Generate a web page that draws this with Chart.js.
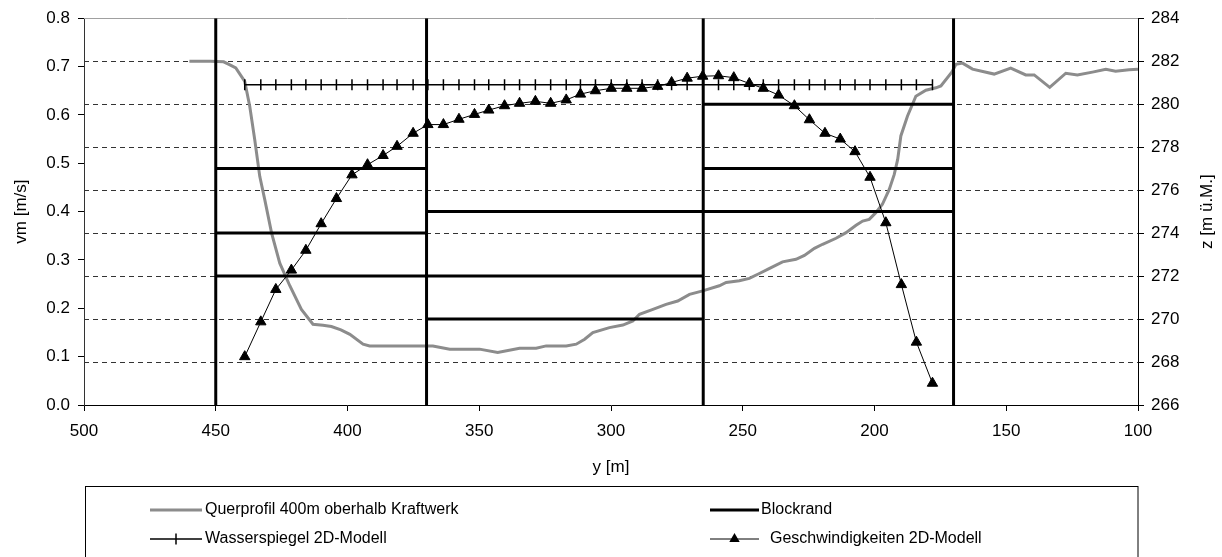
<!DOCTYPE html>
<html><head><meta charset="utf-8">
<script src="https://cdn.jsdelivr.net/npm/chart.js@4.4.0/dist/chart.umd.min.js"></script>
<style>html,body{margin:0;padding:0;background:#fff;overflow:hidden}#wrap{width:1222px;height:557px;position:relative}</style>
</head><body><div id="wrap"><canvas id="c" width="1222" height="557"></canvas></div>
<script>
// ---- data ----
const xTickLabels = [500, 450, 400, 350, 300, 250, 200, 150, 100];
const vmTickLabels = ["0.0","0.1","0.2","0.3","0.4","0.5","0.6","0.7","0.8"];
const zTickLabels = [266, 268, 270, 272, 274, 276, 278, 280, 282, 284];

// y positions [m] of the 2D-model nodes
const modelY = [439, 432.9, 427.2, 421.3, 415.8, 410.0, 404.2, 398.3, 392.4, 386.5, 381.2, 375.1, 369.5, 363.6, 357.7, 351.8, 346.4, 340.4, 334.7, 328.7, 322.9, 317.0, 311.6, 305.9, 299.9, 294.0, 288.2, 282.3, 277.0, 271.1, 265.2, 259.2, 253.4, 247.5, 242.2, 236.4, 230.4, 224.7, 218.8, 213.0, 207.4, 201.7, 195.7, 189.8, 184.1, 178.0];
// Geschwindigkeiten 2D-Modell, vm [m/s]
const velocity = [0.100, 0.172, 0.239, 0.279, 0.320, 0.375, 0.427, 0.476, 0.497, 0.516, 0.535, 0.562, 0.580, 0.580, 0.591, 0.601, 0.610, 0.619, 0.624, 0.628, 0.624, 0.631, 0.643, 0.650, 0.655, 0.655, 0.655, 0.659, 0.667, 0.676, 0.680, 0.681, 0.677, 0.665, 0.655, 0.641, 0.619, 0.590, 0.562, 0.550, 0.524, 0.471, 0.377, 0.249, 0.130, 0.045];
// Wasserspiegel 2D-Modell, z [m ü.M.]
const waterLevel = [280.9, 280.9, 280.9, 280.9, 280.9, 280.9, 280.9, 280.9, 280.9, 280.9, 280.9, 280.9, 280.9, 280.9, 280.9, 280.9, 280.9, 280.9, 280.9, 280.9, 280.9, 280.9, 280.9, 280.9, 280.9, 280.9, 280.9, 280.9, 280.9, 280.9, 280.9, 280.9, 280.9, 280.9, 280.9, 280.9, 280.9, 280.9, 280.9, 280.9, 280.9, 280.9, 280.9, 280.9, 280.9, 280.9];

// Querprofil 400m oberhalb Kraftwerk
const profileY = [460, 452, 447, 445, 442.4, 439.0, 437.1, 435.2, 433.3, 431.4, 428.8, 425.7, 421.9, 417.5, 413.1, 409.3, 406.1, 402.5, 399.1, 394.1, 391.6, 380, 367.6, 361.2, 349.9, 343.0, 334.7, 328.4, 324.6, 317.0, 313.2, 310.0, 306.9, 300.6, 295.5, 291.7, 289.2, 284.1, 279.1, 274.7, 270.2, 265.2, 258.9, 256.3, 251.3, 247.5, 243.7, 240.0, 234.9, 229.8, 226.6, 222.8, 219.7, 214.6, 210.8, 207.0, 204.5, 202.0, 199.5, 197.0, 194.4, 192.5, 191.2, 190.0, 187.5, 184.3, 180.5, 176.7, 174.8, 170.6, 169.1, 166.6, 162.8, 154.6, 148.3, 142.6, 139.4, 133.5, 127.4, 123.0, 117.3, 112.2, 108.5, 103.4, 100];
const profileZ = [282.0, 282.0, 281.97, 281.85, 281.69, 281.06, 279.9, 278.34, 276.64, 275.56, 274.0, 272.6, 271.55, 270.45, 269.76, 269.71, 269.65, 269.5, 269.29, 268.83, 268.75, 268.75, 268.75, 268.6, 268.6, 268.44, 268.64, 268.64, 268.75, 268.75, 268.83, 269.06, 269.37, 269.6, 269.72, 269.91, 270.22, 270.45, 270.68, 270.84, 271.15, 271.31, 271.55, 271.7, 271.78, 271.89, 272.12, 272.35, 272.66, 272.78, 272.96, 273.29, 273.48, 273.76, 274.02, 274.36, 274.56, 274.64, 274.95, 275.34, 276.03, 276.73, 277.43, 278.52, 279.44, 280.37, 280.65, 280.76, 280.85, 281.5, 281.85, 281.91, 281.63, 281.4, 281.68, 281.36, 281.36, 280.78, 281.44, 281.36, 281.49, 281.62, 281.53, 281.6, 281.62];

// Blockrand segments (null separates segments)
const blockY = [450, 450, null, 370, 370, null, 265, 265, null, 170, 170, null,
  450, 370, null, 450, 370, null, 450, 265, null, 370, 170, null, 370, 265, null, 265, 170, null, 265, 170];
const blockZ = [266, 284, null, 266, 284, null, 266, 284, null, 266, 284, null,
  277, 277, null, 274, 274, null, 272, 272, null, 275, 275, null, 270, 270, null, 280, 280, null, 277, 277];

const legendLabels = ["Querprofil 400m oberhalb Kraftwerk", "Blockrand", "Wasserspiegel 2D-Modell", "Geschwindigkeiten 2D-Modell"];
const axisTitles = {x: "y [m]", vm: "vm [m/s]", z: "z [m ü.M."+"]"};

// ---- chart ----
const FONT = "'Liberation Sans', Arial, sans-serif";
const pts = (xs, ys) => xs.map((x, i) => ({x: x === null ? null : x, y: ys[i]}));

const overlay = {
  id: 'overlay',
  beforeDatasetsDraw(chart) {
    const {ctx, chartArea: a} = chart;
    ctx.save();
    ctx.strokeStyle = '#a0a0a0';
    ctx.lineWidth = 1;
    ctx.beginPath();
    ctx.moveTo(a.left, Math.round(a.top) + 0.5);
    ctx.lineTo(a.right, Math.round(a.top) + 0.5);
    ctx.stroke();
    ctx.restore();
  },
  afterDraw(chart) {
    const {ctx, chartArea: a} = chart;
    ctx.save();
    ctx.fillStyle = '#000';
    ctx.font = "17px " + FONT;
    ctx.textAlign = 'center';
    ctx.textBaseline = 'middle';
    ctx.fillText(axisTitles.x, (a.left + a.right) / 2, 467);
    ctx.save(); ctx.translate(21, (a.top + a.bottom) / 2); ctx.rotate(-Math.PI / 2);
    ctx.fillText(axisTitles.vm, 0, 0); ctx.restore();
    ctx.save(); ctx.translate(1207, (a.top + a.bottom) / 2); ctx.rotate(-Math.PI / 2);
    ctx.fillText(axisTitles.z, 0, 0); ctx.restore();

    // legend
    const bx = 85.5, by = 486.5;
    ctx.strokeStyle = '#000'; ctx.lineWidth = 1;
    ctx.strokeRect(bx, by, 1138 - bx, 120);
    ctx.font = "16px " + FONT;
    ctx.textAlign = 'left';
    const r1 = 510, r2 = 539;
    const c1s = 150, c1e = 202, c2s = 710, c2e = 759;
    // Querprofil
    ctx.strokeStyle = '#8c8c8c'; ctx.lineWidth = 3;
    ctx.beginPath(); ctx.moveTo(c1s, r1); ctx.lineTo(c1e, r1); ctx.stroke();
    ctx.fillText(legendLabels[0], 205, r1);
    // Blockrand
    ctx.strokeStyle = '#000'; ctx.lineWidth = 3;
    ctx.beginPath(); ctx.moveTo(c2s, r1); ctx.lineTo(c2e, r1); ctx.stroke();
    ctx.fillText(legendLabels[1], 761, r1);
    // Wasserspiegel
    ctx.lineWidth = 1.5;
    ctx.beginPath(); ctx.moveTo(c1s, r2); ctx.lineTo(c1e, r2); ctx.stroke();
    const m1 = (c1s + c1e) / 2;
    ctx.beginPath(); ctx.moveTo(m1, r2 - 5.5); ctx.lineTo(m1, r2 + 5.5); ctx.stroke();
    ctx.fillText(legendLabels[2], 205, r2);
    // Geschwindigkeiten
    ctx.lineWidth = 1;
    ctx.beginPath(); ctx.moveTo(c2s, r2); ctx.lineTo(c2e, r2); ctx.stroke();
    const m2 = (c2s + c2e) / 2;
    ctx.beginPath(); ctx.moveTo(m2, r2 - 6); ctx.lineTo(m2 + 5.2, r2 + 3); ctx.lineTo(m2 - 5.2, r2 + 3); ctx.closePath(); ctx.fill();
    ctx.fillText(legendLabels[3], 770, r2);
    ctx.restore();
  }
};

new Chart(document.getElementById('c'), {
  type: 'scatter',
  data: {
    datasets: [
      {label: legendLabels[3], data: pts(modelY, velocity), yAxisID: 'vm', showLine: true,
       borderColor: '#000', borderWidth: 1, backgroundColor: '#000', pointStyle: 'triangle',
       pointRadius: 6, pointBorderWidth: 1, pointBackgroundColor: '#000', pointBorderColor: '#000', order: 1},
      {label: legendLabels[2], data: pts(modelY, waterLevel), yAxisID: 'z', showLine: true,
       borderColor: '#000', borderWidth: 1.5, pointStyle: 'line', pointRotation: 90, pointRadius: 5.5,
       pointBorderWidth: 1.5, pointBorderColor: '#000', order: 2},
      {label: legendLabels[1], data: pts(blockY, blockZ), yAxisID: 'z', showLine: true, spanGaps: false,
       borderColor: '#000', borderWidth: 3, pointRadius: 0, order: 3},
      {label: legendLabels[0], data: pts(profileY, profileZ), yAxisID: 'z', showLine: true,
       borderColor: '#8c8c8c', borderWidth: 3, pointRadius: 0, order: 4}
    ]
  },
  options: {
    responsive: false, animation: false, devicePixelRatio: 1,
    layout: {padding: {top: 18, left: 0, right: 0, bottom: 0}},
    plugins: {legend: {display: false}, tooltip: {enabled: false}},
    elements: {line: {tension: 0}},
    scales: {
      x: {
        type: 'linear', position: 'bottom', min: 100, max: 500, reverse: true,
        afterFit: s => { s.height = 152; },
        afterBuildTicks: s => { s.ticks = xTickLabels.map(v => ({value: v})); },
        ticks: {font: {family: FONT, size: 17}, color: '#000', padding: 10, maxRotation: 0, autoSkip: false},
        grid: {drawOnChartArea: false, drawTicks: true, tickLength: 6, color: '#000'},
        border: {color: '#000', width: 1}
      },
      vm: {
        type: 'linear', position: 'left', min: 0, max: 0.8,
        afterFit: s => { s.width = 84; },
        afterBuildTicks: s => { s.ticks = vmTickLabels.map(v => ({value: parseFloat(v)})); },
        ticks: {font: {family: FONT, size: 17}, color: '#000', padding: 8,
                callback: (v, i) => vmTickLabels[i]},
        grid: {drawOnChartArea: false, drawTicks: true, tickLength: 6, color: '#000'},
        border: {color: '#333', width: 1}
      },
      z: {
        type: 'linear', position: 'right', min: 266, max: 284,
        afterFit: s => { s.width = 84; },
        afterBuildTicks: s => { s.ticks = zTickLabels.map(v => ({value: v})); },
        ticks: {font: {family: FONT, size: 17}, color: '#000', padding: 7},
        grid: {drawOnChartArea: true, drawTicks: true, tickLength: 6, lineWidth: 1, tickColor: '#000',
               color: c => (c.tick && (c.tick.value === 266 || c.tick.value === 284)) ? 'rgba(0,0,0,0)' : '#333'},
        border: {color: '#000', width: 1, dash: [5, 4]}
      }
    }
  },
  plugins: [overlay]
});
</script></body></html>
